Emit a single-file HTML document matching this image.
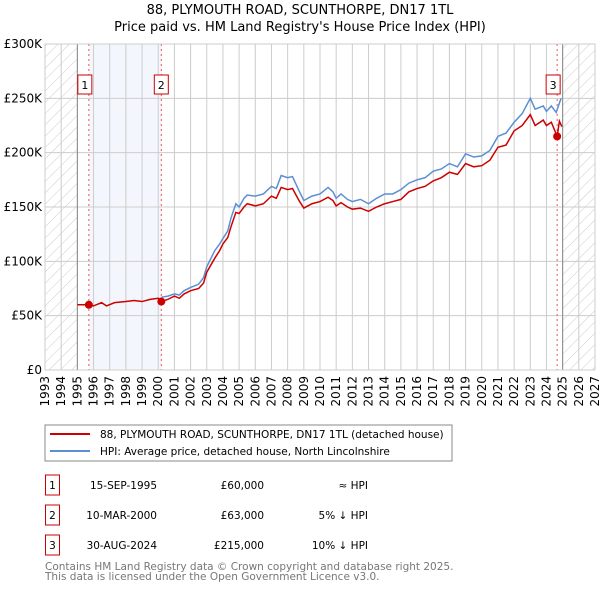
<!DOCTYPE html>
<html><head><meta charset="utf-8"><style>
body{margin:0;background:#fff;}
svg text{font-family:"DejaVu Sans","Liberation Sans",sans-serif;}
</style></head><body>
<svg id="chart" width="600" height="590" xmlns="http://www.w3.org/2000/svg">
<defs>
<pattern id="hatch" width="8" height="8" patternUnits="userSpaceOnUse" patternTransform="rotate(45)">
<line x1="0" y1="0" x2="0" y2="8" stroke="#ccc" stroke-width="1"/>
</pattern>
</defs>
<text x="300" y="14" text-anchor="middle" font-size="13">88, PLYMOUTH ROAD, SCUNTHORPE, DN17 1TL</text>
<text x="300" y="31" text-anchor="middle" font-size="13">Price paid vs. HM Land Registry's House Price Index (HPI)</text>
<g id="plot"></g>
<g>
<rect x="45" y="425" width="407" height="36" fill="#fff" stroke="#888"/>
<line x1="50" y1="434" x2="90" y2="434" stroke="#cc0000" stroke-width="2"/>
<text x="100" y="438" font-size="10.5">88, PLYMOUTH ROAD, SCUNTHORPE, DN17 1TL (detached house)</text>
<line x1="50" y1="451" x2="90" y2="451" stroke="#5b8fd4" stroke-width="2"/>
<text x="100" y="455" font-size="10.5">HPI: Average price, detached house, North Lincolnshire</text>
</g>
<g font-size="10.5">
<rect x="45.5" y="475" width="14" height="20" fill="#fff" stroke="#cc0000"/>
<text x="52.5" y="489" text-anchor="middle">1</text>
<text x="157" y="489" text-anchor="end">15-SEP-1995</text>
<text x="264" y="489" text-anchor="end">£60,000</text>
<text x="368" y="489" text-anchor="end">≈ HPI</text>
<rect x="45.5" y="505" width="14" height="20" fill="#fff" stroke="#cc0000"/>
<text x="52.5" y="519" text-anchor="middle">2</text>
<text x="157" y="519" text-anchor="end">10-MAR-2000</text>
<text x="264" y="519" text-anchor="end">£63,000</text>
<text x="368" y="519" text-anchor="end">5% ↓ HPI</text>
<rect x="45.5" y="535" width="14" height="20" fill="#fff" stroke="#cc0000"/>
<text x="52.5" y="549" text-anchor="middle">3</text>
<text x="157" y="549" text-anchor="end">30-AUG-2024</text>
<text x="264" y="549" text-anchor="end">£215,000</text>
<text x="368" y="549" text-anchor="end">10% ↓ HPI</text>
</g>
<text x="45" y="570" font-size="10.5" fill="#777">Contains HM Land Registry data © Crown copyright and database right 2025.</text>
<text x="45" y="580" font-size="10.5" fill="#777">This data is licensed under the Open Government Licence v3.0.</text>
</svg>
<script>
const yearTicks=[1993,1994,1995,1996,1997,1998,1999,2000,2001,2002,2003,2004,2005,2006,2007,2008,2009,2010,2011,2012,2013,2014,2015,2016,2017,2018,2019,2020,2021,2022,2023,2024,2025,2026,2027];
const valueTicks=[0,50000,100000,150000,200000,250000,300000];
const valueTickLabels=["£0","£50K","£100K","£150K","£200K","£250K","£300K"];
const hpiYears=[2000.2,2000.6,2001,2001.3,2001.6,2002,2002.5,2002.8,2003,2003.5,2003.8,2004,2004.3,2004.5,2004.8,2005,2005.3,2005.5,2006,2006.5,2007,2007.3,2007.6,2008,2008.3,2008.7,2009,2009.5,2010,2010.5,2010.8,2011,2011.3,2011.7,2012,2012.5,2013,2013.5,2014,2014.5,2015,2015.5,2016,2016.5,2017,2017.5,2018,2018.5,2019,2019.5,2020,2020.5,2021,2021.5,2022,2022.5,2023,2023.3,2023.8,2024,2024.3,2024.6,2024.9];
const hpiValues=[67000,68000,70000,69000,73000,76000,79000,85000,95000,110000,116000,121000,128000,140000,153000,150000,158000,161000,160000,162000,169000,167000,179000,177000,178000,165000,156000,160000,162000,168000,164000,158000,162000,157000,155000,157000,153000,158000,162000,162000,166000,172000,175000,177000,183000,185000,190000,187000,199000,196000,197000,202000,215000,218000,228000,236000,250000,240000,243000,238000,243000,237000,250000];
const ppYears=[1995,1995.7,1996,1996.5,1996.8,1997.3,1998,1998.5,1999,1999.5,2000,2000.2,2000.6,2001,2001.3,2001.6,2002,2002.5,2002.8,2003,2003.5,2003.8,2004,2004.3,2004.5,2004.8,2005,2005.3,2005.5,2006,2006.5,2007,2007.3,2007.6,2008,2008.3,2008.7,2009,2009.5,2010,2010.5,2010.8,2011,2011.3,2011.7,2012,2012.5,2013,2013.5,2014,2014.5,2015,2015.5,2016,2016.5,2017,2017.5,2018,2018.5,2019,2019.5,2020,2020.5,2021,2021.5,2022,2022.5,2023,2023.3,2023.8,2024,2024.3,2024.66,2024.8,2024.95];
const ppValues=[60000,60000,59000,62000,59000,62000,63000,64000,63000,65000,66000,63000,65000,68000,66000,70000,73000,75000,80000,90000,103000,110000,116000,122000,132000,145000,144000,150000,153000,151000,153000,160000,158000,168000,166000,167000,156000,149000,153000,155000,159000,156000,151000,154000,150000,148000,149000,146000,150000,153000,155000,157000,164000,167000,169000,174000,177000,182000,180000,190000,187000,188000,193000,205000,207000,220000,225000,235000,225000,230000,225000,228000,215000,229000,224000];
const sales=[[1995.71,60000,"1"],[2000.19,63000,"2"],[2024.66,215000,"3"]];

const NS="http://www.w3.org/2000/svg";
const L=45,R=595,T=44,B=370;
const x=v=>L+(v-1993)*(R-L)/34;
const y=v=>B-v*(B-T)/300000;
const plot=document.getElementById('plot');
function mk(tag,attrs,parent){const e=document.createElementNS(NS,tag);for(const k in attrs)e.setAttribute(k,attrs[k]);(parent||plot).appendChild(e);return e;}
let sh=mk('rect',{x:x(sales[0][0]),y:T,width:x(sales[1][0])-x(sales[0][0]),height:B-T,fill:'#eef3fc',opacity:0.7});


let h1=mk('rect',{x:L,y:T,width:x(1995)-L,height:B-T,fill:'url(#hatch)'});


let h2=mk('rect',{x:x(2025),y:T,width:R-x(2025),height:B-T,fill:'url(#hatch)'});


yearTicks.forEach((yr,i)=>{
 let g=mk('line',{x1:x(yr),x2:x(yr),y1:T,y2:B,stroke:'#ccc','stroke-width':1});
 
 
 let t=mk('text',{transform:`translate(${x(yr)+4},${B+6}) rotate(-90)`,'text-anchor':'end','font-size':12});
 t.textContent=yr;
 
 
});
valueTicks.forEach((v,i)=>{
 let g=mk('line',{x1:L,x2:R,y1:y(v),y2:y(v),stroke:'#ccc','stroke-width':1});
 
 
 let t=mk('text',{x:L-3,y:y(v)+4,'text-anchor':'end','font-size':12});
 t.textContent=valueTickLabels[i];
 
 
});
[1995,2025].forEach(yr=>{
 let g=mk('line',{x1:x(yr),x2:x(yr),y1:T,y2:B,stroke:'#888','stroke-width':1});
 
 
});
sales.forEach(s=>{
 let g=mk('line',{x1:x(s[0]),x2:x(s[0]),y1:T,y2:B,stroke:'#ee5555','stroke-width':1,'stroke-dasharray':'2,3'});
 
 
});
let hp=mk('polyline',{points:hpiYears.map((v,i)=>x(v)+','+y(hpiValues[i])).join(' '),fill:'none',stroke:'#5b8fd4','stroke-width':1.5});


let pp=mk('polyline',{points:ppYears.map((v,i)=>x(v)+','+y(ppValues[i])).join(' '),fill:'none',stroke:'#cc0000','stroke-width':1.5});


sales.forEach(s=>{
 let c=mk('circle',{cx:x(s[0]),cy:y(s[1]),r:4,fill:'#cc0000'});
 
 
 let bx=x(s[0])-7-(s[2]==='3'?4:0)-(s[2]==='1'?4:0);
 let r=mk('rect',{x:bx,y:75,width:14,height:19,fill:'#fff',stroke:'#cc0000'});
 
 
 let t=mk('text',{x:bx+7,y:89,'text-anchor':'middle','font-size':11});
 t.textContent=s[2];
 
 
});
let fr=mk('rect',{x:L,y:T,width:R-L,height:B-T,fill:'none',stroke:'#ccc'});


</script>
</body></html>
